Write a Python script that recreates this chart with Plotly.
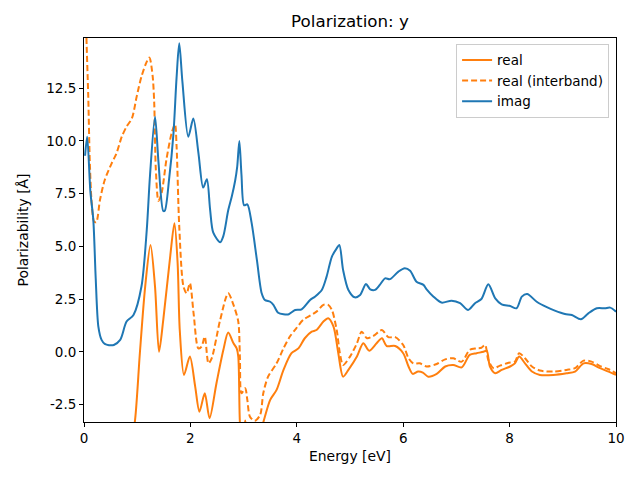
import plotly.graph_objects as go

# imag (blue)
imag_x = [0.02, 0.06, 0.12, 0.175, 0.22, 0.27, 0.33, 0.39, 0.47, 0.56, 0.68, 0.80, 0.93, 1.08, 1.18, 1.24, 1.335, 1.40, 1.49, 1.52, 1.60, 1.68, 1.74, 1.79, 1.85, 1.96, 2.055, 2.15, 2.24, 2.31, 2.37, 2.43, 2.56, 2.62, 2.71, 2.78, 2.84, 2.88, 2.92, 2.96, 3.01, 3.07, 3.15, 3.25, 3.34, 3.40, 3.50, 3.56, 3.65, 3.75, 3.85, 3.97, 4.09, 4.25, 4.34, 4.47, 4.56, 4.66, 4.75, 4.80, 4.87, 4.97, 5.09, 5.19, 5.30, 5.38, 5.47, 5.56, 5.66, 5.75, 5.91, 6.03, 6.13, 6.25, 6.38, 6.44, 6.57, 6.72, 6.91, 7.07, 7.22, 7.35, 7.47, 7.60, 7.73, 7.85, 8.01, 8.13, 8.23, 8.33, 8.51, 8.70, 8.85, 9.04, 9.17, 9.34, 9.48, 9.64, 9.79, 9.89, 10.0]
imag_y = [9.3, 10.2, 7.6, 6.26, 3.5, 1.2, 0.57, 0.38, 0.32, 0.33, 0.57, 1.44, 1.75, 3.1, 5.8, 8.34, 11.15, 9.0, 6.68, 6.7, 8.2, 10.3, 13.0, 14.63, 12.8, 10.2, 11.06, 9.45, 7.79, 8.18, 6.76, 5.65, 5.2, 5.5, 6.7, 7.39, 8.1, 8.78, 10.0, 8.4, 6.95, 7.0, 6.13, 4.36, 2.78, 2.46, 2.38, 2.23, 1.86, 1.79, 1.79, 1.99, 2.02, 2.46, 2.62, 2.94, 3.57, 4.52, 4.91, 5.07, 3.89, 2.94, 2.59, 2.70, 3.22, 2.97, 2.94, 3.18, 3.49, 3.45, 3.81, 3.97, 3.85, 3.33, 3.18, 2.97, 2.62, 2.34, 2.43, 2.31, 1.99, 2.31, 2.51, 3.21, 2.54, 2.26, 2.18, 2.07, 2.62, 2.75, 2.38, 2.12, 1.96, 1.80, 1.75, 1.55, 1.83, 2.07, 2.07, 2.10, 1.91]

# real (solid orange)
real_x = [0.05, 0.3, 0.6, 0.85, 0.96, 1.05, 1.15, 1.25, 1.335, 1.41, 1.49, 1.62, 1.70, 1.76, 1.80, 1.88, 1.99, 2.09, 2.17, 2.27, 2.36, 2.49, 2.62, 2.71, 2.81, 2.87, 2.90, 2.93, 2.97, 3.03, 3.1, 3.2, 3.3, 3.40, 3.50, 3.62, 3.75, 3.90, 4.03, 4.15, 4.28, 4.37, 4.50, 4.59, 4.69, 4.78, 4.87, 4.97, 5.13, 5.25, 5.36, 5.50, 5.60, 5.69, 5.85, 6.00, 6.10, 6.18, 6.28, 6.37, 6.47, 6.63, 6.79, 6.94, 7.10, 7.25, 7.38, 7.51, 7.57, 7.63, 7.73, 7.85, 8.01, 8.10, 8.18, 8.29, 8.42, 8.57, 8.82, 9.07, 9.23, 9.39, 9.54, 9.70, 9.86, 10.0]
real_y = [-40.0, -15.0, -8.0, -5.0, -3.22, -0.06, 3.1, 5.07, 3.1, 0.01, 1.52, 4.52, 6.1, 4.2, 1.04, -1.09, -0.22, -1.64, -2.83, -1.96, -3.14, -1.48, 0.1, 0.92, 0.41, 0.17, -0.22, -3.32, -4.5, -3.25, -4.5, -5.0, -4.0, -3.07, -2.27, -1.8, -0.85, -0.06, 0.17, 0.65, 0.96, 1.04, 1.44, 1.60, 1.20, -0.06, -1.17, -0.85, -0.22, 0.41, 0.06, 0.41, 0.65, 0.28, 0.28, -0.06, -0.69, -1.04, -0.93, -0.98, -1.17, -1.04, -0.69, -0.62, -0.73, -0.14, -0.06, 0.01, 0.06, -0.69, -1.01, -0.85, -0.69, -0.54, -0.22, -0.54, -0.93, -1.09, -1.09, -1.01, -0.93, -0.54, -0.57, -0.77, -0.93, -1.09]

# real (interband) (dashed orange)
inter_x = [0.02, 0.04, 0.08, 0.11, 0.145, 0.19, 0.23, 0.30, 0.39, 0.52, 0.61, 0.71, 0.80, 0.90, 0.99, 1.08, 1.18, 1.23, 1.29, 1.32, 1.35, 1.40, 1.46, 1.55, 1.65, 1.71, 1.74, 1.79, 1.87, 1.93, 1.99, 2.06, 2.15, 2.21, 2.27, 2.34, 2.40, 2.56, 2.71, 2.81, 2.90, 2.93, 2.96, 3.03, 3.07, 3.12, 3.21, 3.31, 3.37, 3.46, 3.62, 3.75, 3.87, 3.99, 4.12, 4.25, 4.37, 4.50, 4.59, 4.66, 4.75, 4.81, 4.87, 5.0, 5.13, 5.22, 5.32, 5.44, 5.60, 5.72, 5.85, 6.00, 6.10, 6.19, 6.31, 6.44, 6.63, 6.79, 6.94, 7.10, 7.25, 7.38, 7.47, 7.54, 7.60, 7.70, 7.82, 7.98, 8.10, 8.18, 8.29, 8.42, 8.57, 8.82, 9.07, 9.23, 9.39, 9.54, 9.70, 9.86, 10.0]
inter_y = [20.0, 15.5, 12.1, 8.94, 7.05, 6.18, 6.15, 7.2, 8.15, 8.94, 9.41, 10.2, 10.68, 11.07, 12.1, 13.05, 13.76, 13.95, 13.08, 11.8, 8.66, 7.16, 7.55, 9.13, 10.4, 10.79, 9.76, 5.97, 3.1, 2.78, 3.26, 1.83, 0.17, 0.25, 0.73, -0.54, -0.30, 1.52, 2.78, 2.23, 1.44, -0.22, -1.96, -1.72, -2.27, -3.07, -3.26, -2.99, -1.96, -1.17, -0.54, 0.17, 0.73, 1.12, 1.52, 1.72, 1.91, 2.23, 2.23, 1.99, 1.04, -0.06, -0.62, -0.22, 0.41, 0.96, 0.65, 0.76, 1.04, 0.70, 0.70, 0.33, -0.30, -0.54, -0.54, -0.69, -0.57, -0.35, -0.30, -0.46, 0.1, 0.17, 0.2, 0.33, -0.38, -0.77, -0.65, -0.51, -0.46, -0.06, -0.30, -0.69, -0.88, -0.93, -0.85, -0.77, -0.41, -0.46, -0.67, -0.82, -1.01]

x_ticks = [0, 2, 4, 6, 8, 10]
y_ticks = [-2.5, 0.0, 2.5, 5.0, 7.5, 10.0, 12.5]

ORANGE = "#ff7f0e"
BLUE = "#1f77b4"
FONT = "DejaVu Sans"

fig = go.Figure()
fig.add_trace(go.Scatter(x=real_x, y=real_y, mode="lines", name="real",
                         line=dict(color=ORANGE, width=2, shape="spline", smoothing=0.8)))
fig.add_trace(go.Scatter(x=inter_x, y=inter_y, mode="lines", name="real (interband)",
                         line=dict(color=ORANGE, width=2, dash="6px,3px", shape="spline", smoothing=0.8)))
fig.add_trace(go.Scatter(x=imag_x, y=imag_y, mode="lines", name="imag",
                         line=dict(color=BLUE, width=2, shape="spline", smoothing=0.8)))

axis_common = dict(showgrid=False, zeroline=False, showline=True, linecolor="black",
                   linewidth=1, mirror=True, ticks="outside", ticklen=4, tickwidth=1,
                   tickcolor="black", automargin=False,
                   tickfont=dict(family=FONT, size=13.5, color="black"))

# The page body has an 8px margin, so the margins are offset by 8px to put the plot area at 84..616 x 38..422
fig.update_layout(
    width=640, height=480,
    paper_bgcolor="white", plot_bgcolor="white",
    margin=dict(l=76, r=32, t=30, b=66),
    title=dict(text="Polarization: y", x=0.5, xref="paper", xanchor="center",
               y=1, yref="container", yanchor="top", pad=dict(t=7),
               font=dict(family=FONT, size=16.7, color="black")),
    font=dict(family=FONT, color="black"),
    showlegend=True,
    legend=dict(x=0.987, y=0.985, xanchor="right", yanchor="top",
                bgcolor="rgba(255,255,255,0.8)", bordercolor="#cccccc", borderwidth=1,
                font=dict(family=FONT, size=13.5, color="black"),
                tracegroupgap=0, itemwidth=30),
    xaxis=dict(range=[0, 10], tickvals=x_ticks, ticktext=[str(v) for v in x_ticks],
               title=dict(text="Energy [eV]", font=dict(family=FONT, size=13.9), standoff=6),
               **axis_common),
    yaxis=dict(range=[-3.32, 14.88], tickvals=y_ticks, ticktext=[f"{v:.1f}" for v in y_ticks],
               title=dict(text="Polarizability [Å]", font=dict(family=FONT, size=13.9), standoff=14),
               **axis_common),
)

fig.write_html("out.html")
